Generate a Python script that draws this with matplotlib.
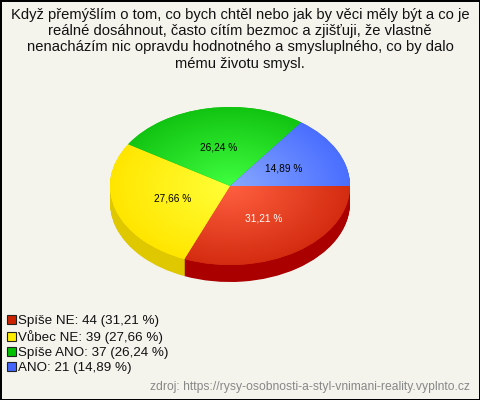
import numpy as np
import matplotlib
matplotlib.use('Agg')
from matplotlib import pyplot as plt
from matplotlib.colors import to_rgb

plt.rcParams['font.family'] = ['Liberation Sans', 'DejaVu Sans']

title = ('Když přemýšlím o tom, co bych chtěl nebo jak by věci měly být a co je\n'
         'reálné dosáhnout, často cítím bezmoc a zjišťuji, že vlastně\n'
         'nenacházím nic opravdu hodnotného a smysluplného, co by dalo\n'
         'mému životu smysl.')
labels = ['Spíše NE', 'Vůbec NE', 'Spíše ANO', 'ANO']
counts = [44, 39, 37, 21]
top_colors = ['#d42c10', '#ffe600', '#12c412', '#4a6eff']
light_colors = ['#ff6040', '#ffff38', '#40ff40', '#88a8ff']
side_colors = ['#aa0000', '#e0c800', '#0a9a0a', '#2c48d0']
legend_colors = ['#cc2200', '#ffee00', '#00c000', '#4466ff']
label_colors = ['white', 'black', 'black', 'black']
source = 'zdroj: https://rysy-osobnosti-a-styl-vnimani-reality.vyplnto.cz'

total = sum(counts)
pct = [100.0 * c / total for c in counts]


def cz(v):
    return ('%.2f' % v).replace('.', ',') + ' %'


bg = '#f4f3ec'
fig = plt.figure(figsize=(4.8, 4.0), dpi=100, facecolor=bg)

fig.text(0.5, 1 - 7.5 / 400, title, ha='center', va='top', fontsize=10.6,
         color='#111111', linespacing=1.22)

# pie: ellipse centre (230, 186) px, radii 120 x 79 px, depth 17 px
cy, rx, ry, dpx = 186, 120, 79, 17
depth = dpx / float(ry)
ax = fig.add_axes([(230 - rx) / 480, (400 - cy - ry - dpx) / 400, 2 * rx / 480, (2 * ry + dpx) / 400])
ax.set_facecolor('none')

nl = 24
for k in range(nl, 0, -1):
    ax.pie(counts, colors=side_colors, startangle=0, counterclock=False,
           center=(0, -depth * k / nl), radius=1, frame=True,
           wedgeprops=dict(linewidth=0, antialiased=True))

wedges, texts, autotexts = ax.pie(
    counts, colors=top_colors, startangle=0, counterclock=False,
    radius=1, frame=True, autopct=lambda p: cz(p), pctdistance=0.5,
    wedgeprops=dict(linewidth=0), textprops=dict(fontsize=7.3))

# radial shading on the top surface
gx, gy = np.meshgrid(np.linspace(-1, 1, 300), np.linspace(-1, 1, 300))
rr = np.clip(np.sqrt(gx ** 2 + gy ** 2), 0, 1)[..., None]
for w, c0, c1 in zip(wedges, light_colors, top_colors):
    a = np.array(to_rgb(c0))
    b = np.array(to_rgb(c1))
    img = a * (1 - rr) + b * rr
    im = ax.imshow(img, extent=(-1, 1, -1, 1), origin='lower', aspect='auto',
                   zorder=w.get_zorder() + 0.1, interpolation='bilinear')
    im.set_clip_path(w)

for t, c in zip(autotexts, label_colors):
    t.set_color(c)
    t.set_zorder(10)

ax.set_xlim(-1, 1)
ax.set_ylim(-1 - depth, 1)
ax.set_aspect('auto')
ax.axis('off')

handles = [plt.Rectangle((0, 0), 1, 1, facecolor=c, edgecolor='#222222', linewidth=0.8)
           for c in legend_colors]
leg_labels = ['%s: %d (%s)' % (l, n, cz(p)) for l, n, p in zip(labels, counts, pct)]
fig.legend(handles, leg_labels, loc='upper left', bbox_to_anchor=(7 / 480, 1 - 315 / 400),
           frameon=False, fontsize=9.6, handlelength=0.7, handleheight=0.7,
           handletextpad=0.15, labelspacing=0.2, borderpad=0.0, borderaxespad=0.0,
           labelcolor='#111111')

fig.text(470 / 480, 1 - 387 / 400, source, ha='right', va='center',
         fontsize=8.75, color='#888888')

fig.patch.set_edgecolor('black')
fig.patch.set_linewidth(2)
fig.savefig('out.png', dpi=100, facecolor=bg, edgecolor='black')
